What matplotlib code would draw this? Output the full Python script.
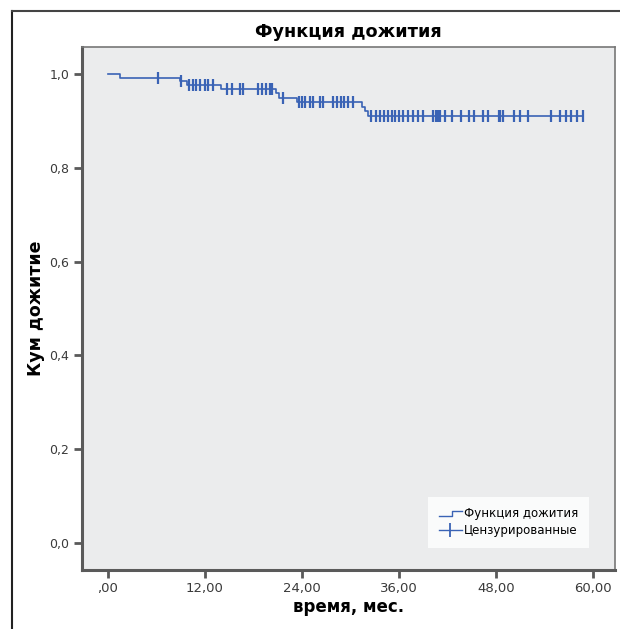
import numpy as np
import matplotlib
matplotlib.use("Agg")
import matplotlib.pyplot as plt
from matplotlib.lines import Line2D
from matplotlib.legend_handler import HandlerBase

# step points of the survival curve (time in months, cumulative survival)
step_times = [0, 1.5, 8.9, 9.8, 14.0, 20.8, 21.2, 23.4, 31.4, 31.8, 32.2]
step_surv = [1.0, 0.992, 0.985, 0.977, 0.969, 0.960, 0.950, 0.941, 0.931, 0.921, 0.911]

# censored observations
censor_times = [6.2, 9.0, 10.1, 10.5, 10.9, 11.4, 12.0, 12.4, 13.0,
                14.7, 15.3, 16.3, 16.7, 18.6, 19.1, 19.6, 20.0, 20.3, 21.7,
                23.6, 24.0, 24.4, 25.0, 25.4, 26.2, 26.6, 27.8, 28.3, 28.8,
                29.2, 29.7, 30.3,
                32.6, 33.1, 33.7, 34.2, 34.7, 35.1, 35.5, 36.0, 36.5, 37.1,
                37.7, 38.4, 39.0, 40.2, 40.6, 40.8, 41.1, 41.7, 42.6, 43.6,
                44.6, 45.3, 46.4, 47.0, 48.3, 48.5, 48.9, 50.2, 51.0, 51.9,
                54.8, 55.9, 56.6, 57.3, 58.0, 58.8]
end_time = 58.8

x_ticks = [0, 12, 24, 36, 48, 60]
y_ticks = [0.0, 0.2, 0.4, 0.6, 0.8, 1.0]

blue = "#3a63b5"
grey = "#5a5a5a"
plt.rcParams['font.family'] = ['DejaVu Sans']


class StepHandler(HandlerBase):
    def create_artists(self, legend, orig_handle, xdescent, ydescent,
                       width, height, fontsize, trans):
        x0, x1 = -xdescent, -xdescent + width
        y0, y1 = -ydescent + height * 0.2, -ydescent + height * 0.8
        xm = x0 + width * 0.55
        ln = Line2D([x0, xm, xm, x1], [y0, y0, y1, y1], color=blue, lw=1.0,
                    transform=trans)
        return [ln]


fig = plt.figure(figsize=(6.2, 6.29), dpi=100)
ax = fig.add_axes([0.132, 0.094, 0.86, 0.831])
ax.set_facecolor("#ebeced")

xs = list(step_times) + [end_time]
ys = list(step_surv) + [step_surv[-1]]
ax.step(xs, ys, where="post", color=blue, lw=1.2)

idx = np.searchsorted(step_times, censor_times, side="right") - 1
cens_y = np.array(step_surv)[idx]
ax.plot(censor_times, cens_y, ls="none", marker="|", ms=8, mew=1.6, color=blue)

ax.set_xlim(-3.2, 62.7)
ax.set_ylim(-0.058, 1.058)
ax.set_xticks(x_ticks)
ax.set_yticks(y_ticks)
ax.set_xticklabels([(",00" if v == 0 else f"{v:.2f}".replace(".", ",")) for v in x_ticks])
ax.set_yticklabels([f"{v:.1f}".replace(".", ",") for v in y_ticks])
ax.tick_params(direction="out", length=6, width=2, color=grey,
               labelcolor="#3a3a3a", labelsize=9.5, pad=3)
ax.tick_params(axis="y", labelsize=9)
for s in ax.spines.values():
    s.set_color("#777777")
    s.set_linewidth(1.2)
ax.spines["left"].set_linewidth(2.2)
ax.spines["bottom"].set_linewidth(2.2)
ax.spines["left"].set_color(grey)
ax.spines["bottom"].set_color(grey)

ax.set_title("Функция дожития", fontsize=12.7, fontweight="bold", pad=7)
ax.set_xlabel("время, мес.", fontsize=12, fontweight="bold", labelpad=2)
ax.set_ylabel("Кум дожитие", fontsize=12.5, fontweight="bold", labelpad=3)

h1 = Line2D([], [], color=blue)
h2 = Line2D([0, 1], [0, 0], color=blue, marker="|", ms=10, mew=1.3, lw=1.0)
leg = ax.legend([h1, h2], ["Функция дожития", "Цензурированные"],
                handler_map={h1: StepHandler()}, loc="lower right",
                bbox_to_anchor=(0.951, 0.042), fontsize=8.5, frameon=True,
                fancybox=False, edgecolor="white", handlelength=2.0,
                handletextpad=0.15, borderpad=0.9, labelspacing=0.35,
                borderaxespad=0)
leg.get_frame().set_linewidth(0)

# outer frame of the picture
fig.add_artist(Line2D([0.0194, 0.0194], [0, 0.9825], color="#222222", lw=1.5,
                      transform=fig.transFigure))
fig.add_artist(Line2D([0.0194, 1], [0.9825, 0.9825], color="#444444", lw=1.5,
                      transform=fig.transFigure))

fig.savefig("out.png", dpi=100, facecolor="white")
